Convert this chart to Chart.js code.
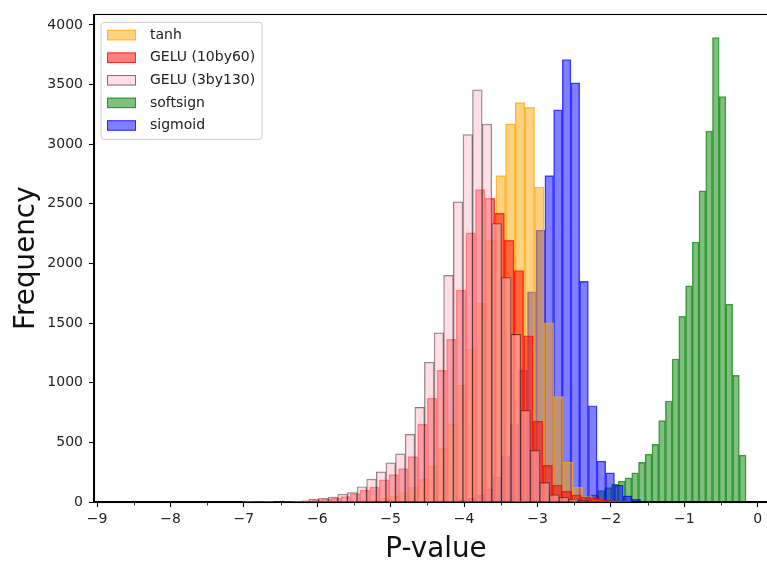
<!DOCTYPE html>
<html>
<head>
<meta charset="utf-8">
<script src="https://cdn.jsdelivr.net/npm/chart.js@4/dist/chart.umd.min.js"></script>
<style>
html,body{margin:0;padding:0;background:#ffffff;overflow:hidden;}
#wrap{width:767px;height:566px;position:relative;overflow:hidden;}
#c{display:block;}
</style>
</head>
<body>
<div id="wrap"><canvas id="c" width="779" height="566"></canvas></div>
<script>
// ---- data ----
const seriesLabels = ['tanh', 'GELU (10by60)', 'GELU (3by130)', 'softsign', 'sigmoid'];

// histogram bin layout: first left edge and bin width (P-value units)
const tanhStart = -6.988, tanhWidth = 0.1316;
const tanhCounts = [1,0,1,0,0,1,1,1,2,3,5,8,12,20,32,50,80,125,
  190,300,450,653,980,1282,1666,2193,2737,3171,3349,3308,2641,1503,884,335,124,46,20,8,3,1];

const gelu10Start = -6.991, gelu10Width = 0.1311;
const gelu10Counts = [4,3,3,4,5,6,10,16,22,30,45,70,100,125,185,230,280,381,651,870,
  1104,1364,1776,2257,2620,2545,2420,2193,1941,1394,678,307,142,90,60,41,30,20,10,4];

const gelu3Start = -7.031, gelu3Width = 0.1311;
const gelu3Counts = [2,3,3,4,4,5,8,25,33,41,66,79,128,192,252,328,403,568,793,1172,
  1419,1900,2517,3081,3456,3168,2334,1882,1405,766,431,162,60,38,25,13,5,2,1,1];

const softsignStart = -2.906, softsignWidth = 0.0916;
const softsignCounts = [1,1,3,5,10,20,35,60,95,120,150,176,203,245,333,401,484,682,847,1199,
  1556,1812,2180,2609,3109,3893,3398,1660,1061,394];

const sigmoidStart = -6.217, sigmoidWidth = 0.1185;
const sigmoidCounts = [1,0,0,0,0,0,1,0,0,0,1,0,0,1,1,2,4,8,15,30,60,110,210,380,650,
  1104,1763,2279,2737,3287,3710,3514,1850,807,343,244,142,52,22,8];

// axis limits and tick labels (the axes run past the right edge of the picture)
const xMin = -9.042, xMax = 0.277;
const yMin = 0, yMax = 4088;
const xTickValues = [-9, -8, -7, -6, -5, -4, -3, -2, -1, 0];
const xMinorTickValues = [-8.5, -7.5, -6.5, -5.5, -4.5, -3.5, -2.5, -1.5, -0.5];
const yTickValues = [0, 500, 1000, 1500, 2000, 2500, 3000, 3500, 4000];
const xLabel = 'P-value', yLabel = 'Frequency';

// ---- build ----
function bins(start, width, counts) {
  return counts.map((c, i) => ({ x: start + (i + 0.5) * width, y: c }));
}
const FONT = "'DejaVu Sans', 'Liberation Sans', sans-serif";

const barCommon = {
  grouped: false, barPercentage: 1, categoryPercentage: 1,
  borderWidth: 0.8, borderSkipped: 'start'
};

const datasets = [
  Object.assign({ label: seriesLabels[0], data: bins(tanhStart, tanhWidth, tanhCounts),
    backgroundColor: 'rgba(255,165,0,0.5)', borderColor: 'rgba(255,165,0,0.7)', xAxisID: 'x', order: 3 }, barCommon),
  Object.assign({ label: seriesLabels[1], data: bins(gelu10Start, gelu10Width, gelu10Counts),
    backgroundColor: 'rgba(255,0,0,0.5)', borderColor: 'rgba(255,0,0,0.7)', xAxisID: 'x1', order: 2 }, barCommon),
  Object.assign({ label: seriesLabels[2], data: bins(gelu3Start, gelu3Width, gelu3Counts),
    backgroundColor: 'rgba(255,192,203,0.5)', borderColor: 'rgba(0,0,0,0.5)', xAxisID: 'x2', order: 1 }, barCommon),
  Object.assign({ label: seriesLabels[3], data: bins(softsignStart, softsignWidth, softsignCounts),
    backgroundColor: 'rgba(0,128,0,0.5)', borderColor: 'rgba(0,128,0,0.7)', xAxisID: 'x3', order: 5 }, barCommon),
  Object.assign({ label: seriesLabels[4], data: bins(sigmoidStart, sigmoidWidth, sigmoidCounts),
    backgroundColor: 'rgba(0,0,255,0.5)', borderColor: 'rgba(0,0,255,0.7)', xAxisID: 'x4', order: 4 }, barCommon)
];

function setTicks(values) {
  return (s) => { s.ticks = values.map((v) => ({ value: v })); };
}
function hiddenX() {
  return { type: 'linear', display: false, min: xMin, max: xMax, offset: false,
    grid: { offset: false }, afterBuildTicks: setTicks(xTickValues) };
}

// matplotlib-like frame and minor ticks
const framePlugin = {
  id: 'frame',
  afterDatasetsDraw(chart) {
    const { ctx, chartArea: a } = chart;
    ctx.save();
    ctx.strokeStyle = '#000';
    ctx.lineWidth = 1.1;
    ctx.strokeRect(Math.round(a.left) + 0.5, Math.round(a.top) + 0.5,
      Math.round(a.right) - Math.round(a.left), Math.round(a.bottom) - Math.round(a.top));
    const xs = chart.scales.x;
    ctx.lineWidth = 0.8;
    xMinorTickValues.forEach((v) => {
      const px = Math.round(xs.getPixelForValue(v)) + 0.5;
      ctx.beginPath();
      ctx.moveTo(px, Math.round(a.bottom) + 0.5);
      ctx.lineTo(px, Math.round(a.bottom) + 3.5);
      ctx.stroke();
    });
    ctx.restore();
  }
};

const legendPlugin = {
  id: 'mplLegend',
  afterDraw(chart) {
    const { ctx, chartArea: a } = chart;
    const x0 = a.left + 7, y0 = a.top + 8, w = 161, h = 117, r = 3;
    ctx.save();
    ctx.beginPath();
    ctx.moveTo(x0 + r, y0);
    ctx.lineTo(x0 + w - r, y0); ctx.quadraticCurveTo(x0 + w, y0, x0 + w, y0 + r);
    ctx.lineTo(x0 + w, y0 + h - r); ctx.quadraticCurveTo(x0 + w, y0 + h, x0 + w - r, y0 + h);
    ctx.lineTo(x0 + r, y0 + h); ctx.quadraticCurveTo(x0, y0 + h, x0, y0 + h - r);
    ctx.lineTo(x0, y0 + r); ctx.quadraticCurveTo(x0, y0, x0 + r, y0);
    ctx.closePath();
    ctx.fillStyle = 'rgba(255,255,255,0.8)';
    ctx.fill();
    ctx.strokeStyle = '#cccccc';
    ctx.lineWidth = 1;
    ctx.stroke();
    ctx.font = '14px ' + FONT;
    ctx.textBaseline = 'middle';
    ctx.textAlign = 'left';
    chart.data.datasets.forEach((ds, i) => {
      const cy = y0 + 12.7 + i * 22.6;
      const sx = x0 + 6, sw = 29, sh = 10.5;
      ctx.fillStyle = ds.backgroundColor;
      ctx.fillRect(sx, cy - sh / 2, sw, sh);
      ctx.strokeStyle = ds.borderColor;
      ctx.lineWidth = 1;
      ctx.strokeRect(sx + 0.5, cy - sh / 2 + 0.5, sw - 1, sh - 1);
      ctx.fillStyle = '#222';
      ctx.fillText(ds.label, x0 + 49, cy);
    });
    ctx.restore();
  }
};

new Chart(document.getElementById('c'), {
  type: 'bar',
  data: { datasets },
  options: {
    responsive: false,
    animation: false,
    devicePixelRatio: 1,
    layout: { padding: { top: 6, right: 1, left: 0, bottom: 0 } },
    plugins: { legend: { display: false }, tooltip: { enabled: false } },
    scales: {
      x: {
        type: 'linear', position: 'bottom', min: xMin, max: xMax, offset: false,
        afterBuildTicks: setTicks(xTickValues),
        grid: { display: true, offset: false, drawOnChartArea: false, drawTicks: true,
          tickLength: 5, tickColor: '#000', tickWidth: 1.1 },
        border: { display: true, color: '#000', width: 1.1 },
        ticks: { padding: 4, color: '#222', maxRotation: 0, autoSkip: false,
          font: { family: FONT, size: 14 },
          callback: (v) => String(Math.round(v)).replace('-', '\u2212') },
        title: { display: true, text: xLabel, color: '#111', padding: { top: 0, bottom: 0 },
          font: { family: FONT, size: 27.8 } },
        afterFit: (s) => { s.height = 64; }
      },
      x1: hiddenX(), x2: hiddenX(), x3: hiddenX(), x4: hiddenX(),
      y: {
        type: 'linear', position: 'left', min: yMin, max: yMax,
        afterBuildTicks: setTicks(yTickValues),
        grid: { display: true, drawOnChartArea: false, drawTicks: true,
          tickLength: 5, tickColor: '#000', tickWidth: 1.1 },
        border: { display: true, color: '#000', width: 1.1 },
        ticks: { padding: 6, color: '#222', autoSkip: false,
          font: { family: FONT, size: 14 }, callback: (v) => String(v) },
        title: { display: true, text: yLabel, color: '#111', padding: { top: 10, bottom: 0 },
          font: { family: FONT, size: 27.8 } },
        afterFit: (s) => { s.width = 94; }
      }
    }
  },
  plugins: [framePlugin, legendPlugin]
});
</script>
</body>
</html>
